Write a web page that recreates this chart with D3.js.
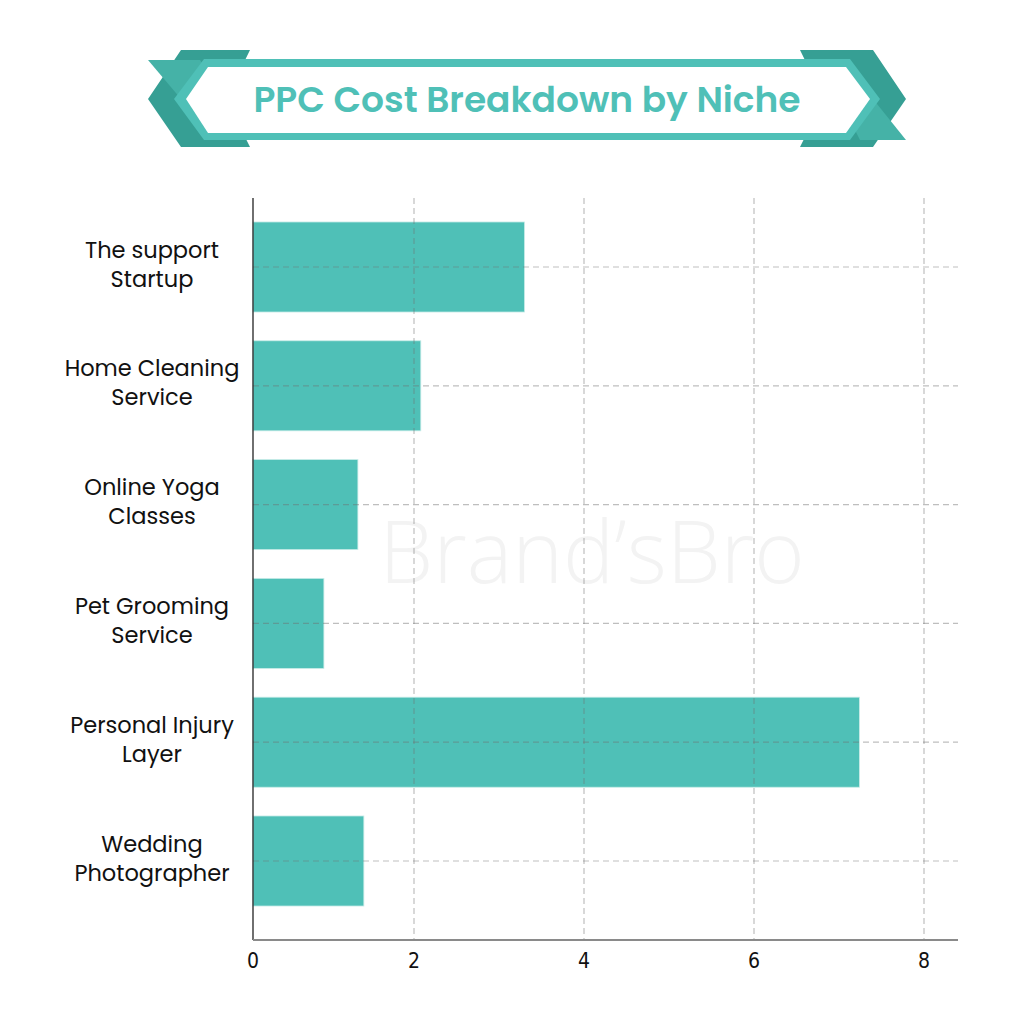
<!DOCTYPE html>
<html>
<head>
<meta charset="utf-8">
<script src="https://cdn.jsdelivr.net/npm/d3@7"></script>
<style>
  html, body { margin: 0; padding: 0; background: #ffffff; }
  svg { display: block; }
</style>
</head>
<body>
<svg id="chart" width="1024" height="1024"></svg>
<script>
// ---- data ----
const titleText = "PPC Cost Breakdown by Niche";
const categories = [
  ["The support", "Startup"],
  ["Home Cleaning", "Service"],
  ["Online Yoga", "Classes"],
  ["Pet Grooming", "Service"],
  ["Personal Injury", "Layer"],
  ["Wedding", "Photographer"]
];
const values = [3.30, 2.08, 1.34, 0.94, 7.24, 1.41];
const xTicks = [0, 2, 4, 6, 8];

// ---- layout ----
const svg = d3.select("#chart");
const teal = "#4fc0b7";
const darkTeal = "#369f94";
const midTeal = "#45b2a7";
const axisX = 253;
const plotTop = 198, plotBottom = 940, plotRight = 958;

const x = d3.scaleLinear().domain([0, 8]).range([244, 924]);
const y = d3.scaleBand().domain(d3.range(categories.length))
  .range([207.6, 920.4]).paddingInner(0.242).paddingOuter(0.121);

// ---- title banner ----
const banner = svg.append("g");
banner.append("polygon").attr("fill", darkTeal)
  .attr("points", "181,50 250,50 226,99 250,147 181,147 148,99");
banner.append("polygon").attr("fill", darkTeal)
  .attr("points", "843,50 873,50 906,99 873,147 800,147 824,99 800,50");
banner.append("polygon").attr("fill", midTeal)
  .attr("points", "148,60 200,60 226,99 181,99");
banner.append("polygon").attr("fill", midTeal)
  .attr("points", "873,99 906,140 860,140 850,120");
banner.append("polygon").attr("fill", teal)
  .attr("points", "204,59 850,59 880,99 850,140 204,140 174,99");
banner.append("polygon").attr("fill", "#ffffff")
  .attr("points", "208,67 846,67 870,99 846,133 208,133 186,99");
banner.append("text")
  .attr("x", 527).attr("y", 99)
  .attr("text-anchor", "middle").attr("dominant-baseline", "central")
  .attr("font-family", "Poppins, 'Open Sans', sans-serif")
  .attr("font-weight", 600).attr("font-size", 36)
  .attr("fill", teal)
  .text(titleText);

// ---- watermark ----
svg.append("text")
  .attr("x", 592).attr("y", 583)
  .attr("text-anchor", "middle")
  .attr("font-family", "'Open Sans', sans-serif")
  .attr("font-weight", 300).attr("font-size", 86)
  .attr("fill", "#f3f3f3")
  .text("Brand\u2019sBro");

// ---- bars ----
svg.append("g").selectAll("rect").data(values).join("rect")
  .attr("x", axisX)
  .attr("y", (d, i) => y(i))
  .attr("width", d => x(d) - axisX)
  .attr("height", y.bandwidth())
  .attr("fill", teal)
  .attr("stroke", "#c8ece8").attr("stroke-width", 0.8);

// ---- gridlines (on top of bars) ----
const grid = svg.append("g")
  .attr("stroke", "rgba(110,110,110,0.45)")
  .attr("stroke-width", 1.2)
  .attr("stroke-dasharray", "6,4");
grid.selectAll("line.v").data(xTicks.filter(t => t > 0)).join("line")
  .attr("class", "v")
  .attr("x1", d => x(d)).attr("x2", d => x(d))
  .attr("y1", plotTop).attr("y2", plotBottom);
grid.selectAll("line.h").data(d3.range(categories.length)).join("line")
  .attr("class", "h")
  .attr("x1", axisX).attr("x2", plotRight)
  .attr("y1", i => y(i) + y.bandwidth() / 2)
  .attr("y2", i => y(i) + y.bandwidth() / 2);

// ---- axes ----
svg.append("line")
  .attr("x1", axisX).attr("x2", axisX)
  .attr("y1", plotTop).attr("y2", plotBottom)
  .attr("stroke", "#222").attr("stroke-width", 1.3);
svg.append("line")
  .attr("x1", axisX).attr("x2", plotRight)
  .attr("y1", plotBottom).attr("y2", plotBottom)
  .attr("stroke", "#8a8a8a").attr("stroke-width", 2);

svg.append("g").selectAll("text").data(xTicks).join("text")
  .attr("x", d => d === 0 ? axisX : x(d))
  .attr("y", 968)
  .attr("text-anchor", "middle")
  .attr("font-family", "'Liberation Sans Narrow', 'DejaVu Sans Condensed', sans-serif")
  .attr("font-size", 21)
  .attr("fill", "#111")
  .text(d => d);

// ---- category labels ----
const labels = svg.append("g")
  .attr("font-family", "Poppins, 'Open Sans', sans-serif")
  .attr("font-size", 22.5)
  .attr("fill", "#111")
  .attr("text-anchor", "middle");
categories.forEach((lines, i) => {
  const cy = y(i) + y.bandwidth() / 2 - 3;
  const t = labels.append("text").attr("x", 152);
  lines.forEach((ln, k) => {
    t.append("tspan").attr("x", 152)
      .attr("y", cy + (k - (lines.length - 1) / 2) * 29)
      .attr("dominant-baseline", "central")
      .text(ln);
  });
});
</script>
</body>
</html>
